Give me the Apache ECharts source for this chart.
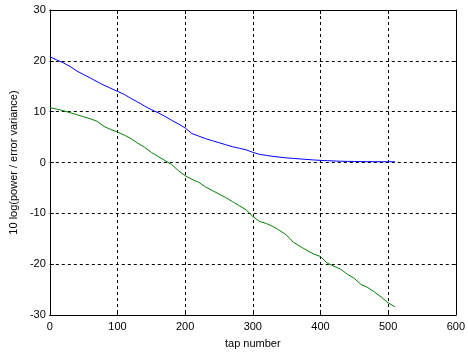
<!DOCTYPE html>
<html><head><meta charset="utf-8">
<script src="https://cdn.jsdelivr.net/npm/echarts@6/dist/echarts.min.js"></script>
<style>html,body{margin:0;padding:0;background:#fff}#c{width:468px;height:354px}</style>
</head><body><div id="c"></div>
<script>
const taps = [0,10,20,30,40,50,60,70,80,90,100,110,120,130,140,150,160,170,180,190,200,210,220,230,240,250,260,270,280,290,300,310,320,330,340,350,360,370,380,390,400,410,420,430,440,450,460,470,480,490,500,510];
const blueVals = [20.8,20.2,19.6,18.9,18.0,17.3,16.6,15.9,15.2,14.6,14.0,13.4,12.6,11.9,11.1,10.4,9.8,9.1,8.3,7.6,6.8,5.7,5.2,4.7,4.3,3.9,3.5,3.1,2.8,2.5,2.0,1.6,1.4,1.2,1.05,0.9,0.8,0.7,0.6,0.5,0.42,0.36,0.3,0.25,0.22,0.2,0.18,0.17,0.16,0.15,0.15,0.14];
const greenVals = [10.8,10.5,10.2,9.8,9.4,9.0,8.6,8.1,7.1,6.5,6.0,5.4,4.7,3.8,3.0,2.0,1.2,0.4,-0.4,-1.6,-2.6,-3.3,-3.9,-4.8,-5.5,-6.2,-6.9,-7.7,-8.5,-9.3,-10.6,-11.6,-12.0,-12.6,-13.4,-14.3,-15.7,-16.5,-17.3,-18.0,-18.5,-19.8,-20.4,-21.0,-22.0,-22.8,-24.0,-24.6,-25.5,-26.5,-27.6,-28.4];
const xLabel = 'tap number';
const yLabel = '10 log(power / error variance)';

const font = 'Liberation Sans, Arial, sans-serif';
const chart = echarts.init(document.getElementById('c'), null, {renderer:'canvas'});
const gridLine = {show:true, lineStyle:{color:'#000', type:[3,3], width:1}};
const hiddenAxis = {show:true, axisLine:{show:true, onZero:false, lineStyle:{color:'#000'}}, axisTick:{show:true, inside:true, length:4, lineStyle:{color:'#000'}}, axisLabel:{show:false}, splitLine:{show:false}};
chart.setOption({
  animation:false,
  backgroundColor:'#fff',
  grid:{left:48, right:9, top:10, bottom:35, containLabel:false},
  xAxis:[{
    type:'value', min:0, max:600, interval:100, position:'bottom',
    name:xLabel, nameLocation:'middle', nameGap:23,
    nameTextStyle:{fontFamily:font, fontSize:11, color:'#000'},
    axisLine:{show:true, onZero:false, lineStyle:{color:'#000'}},
    axisTick:{show:true, inside:true, length:4, lineStyle:{color:'#000'}},
    axisLabel:{fontFamily:font, fontSize:11, color:'#000', margin:6},
    splitLine:gridLine
  }, Object.assign({type:'value', min:0, max:600, interval:100, position:'top'}, hiddenAxis)],
  yAxis:[{
    type:'value', min:-30, max:30, interval:10, position:'left',
    name:yLabel, nameLocation:'middle', nameGap:30,
    nameTextStyle:{fontFamily:font, fontSize:11, color:'#000'},
    axisLine:{show:true, onZero:false, lineStyle:{color:'#000'}},
    axisTick:{show:true, inside:true, length:4, lineStyle:{color:'#000'}},
    axisLabel:{fontFamily:font, fontSize:11, color:'#000', margin:4},
    splitLine:gridLine
  }, Object.assign({type:'value', min:-30, max:30, interval:10, position:'right'}, hiddenAxis)],
  series:[
    {type:'line', data:taps.map((t,i)=>[t,blueVals[i]]), symbol:'none', lineStyle:{color:'#0000ff', width:1}, itemStyle:{color:'#0000ff'}},
    {type:'line', data:taps.map((t,i)=>[t,greenVals[i]]), symbol:'none', lineStyle:{color:'#008000', width:1}, itemStyle:{color:'#008000'}}
  ]
});
</script></body></html>
